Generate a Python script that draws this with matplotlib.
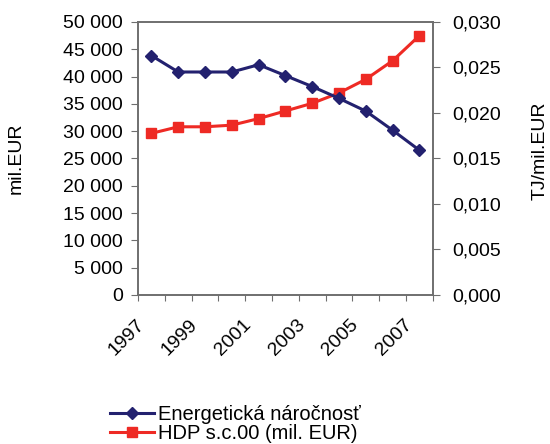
import matplotlib
matplotlib.use("Agg")
import matplotlib.pyplot as plt
import matplotlib.transforms as mtransforms
from matplotlib.ticker import FuncFormatter, FixedLocator

plt.rcParams['font.family'] = ['Liberation Sans', 'DejaVu Sans']

years = list(range(1997, 2008))
year_labels = ["1997", "", "1999", "", "2001", "", "2003", "", "2005", "", "2007"]
# HDP s.c.00 (mil. EUR) - left axis
hdp = [29600, 30800, 30800, 31100, 32300, 33700, 35100, 37000, 39500, 42900, 47500]
# Energeticka narocnost (TJ/mil.EUR) - right axis
energy = [0.0263, 0.0245, 0.0245, 0.0245, 0.0253, 0.0241, 0.0229, 0.0216, 0.0202, 0.0181, 0.0159]

blue = "#23216f"
red = "#ee2a24"
grey = "#6e6e6e"
fs = 14

fig = plt.figure(figsize=(5.5, 4.44), dpi=100)
ax = fig.add_axes([0.251, 0.3356, 0.536, 0.615])
ax2 = ax.twinx()

x = list(range(len(years)))
l2 = ax.plot(x, hdp, color=red, marker="s", markersize=7.5, linewidth=2.2,
             label="HDP s.c.00 (mil. EUR)", zorder=3)
l1 = ax2.plot(x, energy, color=blue, marker="D", markersize=6.3, linewidth=2.2,
              label="Energetická náročnosť", zorder=3)

ax.set_xlim(-0.5, len(years) - 0.5)
ax.set_ylim(0, 50000)
ax2.set_ylim(0, 0.030)
ax.set_yticks(range(0, 50001, 5000))
ax2.set_yticks([i * 0.005 for i in range(7)])
ax.yaxis.set_major_formatter(FuncFormatter(lambda v, p: f"{int(v):,}".replace(",", " ")))
ax2.yaxis.set_major_formatter(FuncFormatter(lambda v, p: f"{v:.3f}".replace(".", ",")))

# category axis: ticks between categories, labels at centres
ax.xaxis.set_major_locator(FixedLocator([i - 0.5 for i in range(len(years) + 1)]))
ax.xaxis.set_major_formatter(FuncFormatter(lambda v, p: ""))
ax.xaxis.set_minor_locator(FixedLocator(x))
ax.set_xticklabels(year_labels, minor=True, rotation=45, ha="right",
                   rotation_mode="anchor")
ax.tick_params(axis="x", which="minor", length=0, pad=15, labelsize=fs)
ax.tick_params(axis="x", which="major", length=4, color=grey)
ax.tick_params(axis="y", length=5, color=grey, labelsize=fs, pad=6)
ax2.tick_params(axis="y", length=5, color=grey, labelsize=fs, pad=9)

# shift the year labels a bit to the left, like the original
shift = mtransforms.ScaledTranslation(-16 / 100, 0, fig.dpi_scale_trans)
for lbl in ax.get_xticklabels(minor=True):
    lbl.set_transform(lbl.get_transform() + shift)

for a in (ax, ax2):
    for s in a.spines.values():
        s.set_color(grey)
        s.set_linewidth(1.2)

ax.set_ylabel("mil.EUR", fontsize=fs)
ax2.set_ylabel("TJ/mil.EUR", fontsize=fs)
ax.yaxis.set_label_coords(-0.383, 0.5)
ax2.yaxis.set_label_coords(1.336, 0.53)

lns = l1 + l2
labs = [l.get_label() for l in lns]
fig.legend(lns, labs, loc="center left", bbox_to_anchor=(0.2, 0.045),
           frameon=False, fontsize=14.5, handlelength=2.2, handletextpad=0.2,
           labelspacing=0.0, borderaxespad=0, borderpad=0)

fig.savefig("out.png", dpi=100)
plt.close()
